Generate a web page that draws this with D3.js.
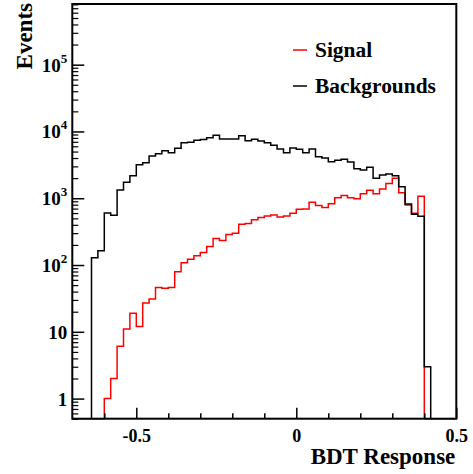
<!DOCTYPE html>
<html>
<head>
<meta charset="utf-8">
<script src="https://cdn.jsdelivr.net/npm/d3@7/dist/d3.min.js"></script>
<style>
  html, body { margin: 0; padding: 0; background: #fff; }
  svg { display: block; }
  text { font-family: "Liberation Serif", "Times New Roman", serif; font-weight: bold; fill: #000; }
</style>
</head>
<body>
<svg id="chart" width="473" height="474"></svg>
<script>
// ---- data ----
const binEdges = [-0.70,-0.68,-0.66,-0.64,-0.62,-0.60,-0.58,-0.56,-0.54,-0.52,
  -0.50,-0.48,-0.46,-0.44,-0.42,-0.40,-0.38,-0.36,-0.34,-0.32,
  -0.30,-0.28,-0.26,-0.24,-0.22,-0.20,-0.18,-0.16,-0.14,-0.12,
  -0.10,-0.08,-0.06,-0.04,-0.02,0.00,0.02,0.04,0.06,0.08,
  0.10,0.12,0.14,0.16,0.18,0.20,0.22,0.24,0.26,0.28,
  0.30,0.32,0.34,0.36,0.38,0.40,0.42,0.44,0.46,0.48,0.50];

const backgroundCounts = [0,0,0,129,163,603,556,1330,1740,2180,
  3160,3410,4300,4650,5160,4820,5600,6790,6890,7380,
  7600,8070,8770,7720,7720,7720,8650,7250,7640,7200,
  6790,6200,5450,4820,5650,5410,4820,5450,4170,4010,
  3530,3700,3830,3490,2770,2650,2910,1990,2230,2310,
  2180,1490,822,576,537,3,0,0,0,0];

const signalCounts = [0,0,0,0,0,1.0,2.0,6.1,11,19,
  12,27,31,46,45,46,79,108,122,138,
  154,190,250,233,287,298,407,417,478,513,
  543,562,525,543,596,684,690,871,776,724,
  830,1020,1098,1020,980,1170,1320,1170,1380,1660,
  1990,1210,794,596,1070,0,0,0,0,0];

const xMajorTicks = [-0.5, 0, 0.5];
const xMajorLabels = ["-0.5", "0", "0.5"];
const xMinorTicks = [-0.6,-0.4,-0.3,-0.2,-0.1,0.1,0.2,0.3,0.4];
const yMajorTicks = [1, 10, 100, 1000, 10000, 100000];
const yMajorLabels = ["1", "10", "10^2", "10^3", "10^4", "10^5"];
const legendNames = ["Signal", "Backgrounds"];
const legendColors = ["#ff0000", "#000000"];

const xTitle = "BDT Response";
const yTitle = "Events";

// ---- layout ----
const W = 473, H = 474;
const L = 72.3, R = 456.3, T = 4, B = 418.7;
const svg = d3.select("#chart");

const x = d3.scaleLinear().domain([-0.7, 0.5]).range([L, R]);
const y = d3.scaleLog().domain([0.5, 8.1e5]).range([B, T]).clamp(true);

// minor y ticks (2..9 per decade)
const yMinorTicks = [];
[0.1,1,10,100,1000,10000,100000].forEach(d => {
  for (let m = 2; m <= 9; m++) { const v = d*m; if (v >= 0.5 && v <= 8.1e5) yMinorTicks.push(v); }
});

// ---- histogram paths ----
function stepPath(counts, fullRange) {
  const pts = [];
  let first = 0, last = counts.length - 1;
  if (!fullRange) {
    while (first < counts.length && counts[first] <= 0) first++;
    while (last >= 0 && counts[last] <= 0) last--;
  }
  const yv = c => c > 0 ? y(c) : B;
  pts.push([x(binEdges[first]), B]);
  for (let i = first; i <= last; i++) {
    pts.push([x(binEdges[i]), yv(counts[i])]);
    pts.push([x(binEdges[i+1]), yv(counts[i])]);
  }
  pts.push([x(binEdges[last+1]), B]);
  return d3.line()(pts);
}

const plot = svg.append("g");
plot.append("path")
  .attr("d", stepPath(signalCounts, true))
  .attr("fill", "none").attr("stroke", legendColors[0]).attr("stroke-width", 1.5);
plot.append("path")
  .attr("d", stepPath(backgroundCounts, false))
  .attr("fill", "none").attr("stroke", legendColors[1]).attr("stroke-width", 1.5);

// ---- axes ----
const xMajor = d3.axisBottom(x).tickValues(xMajorTicks).tickSize(-11).tickPadding(10.5)
  .tickFormat((d, i) => xMajorLabels[i]);
const gx = svg.append("g").attr("transform", `translate(0,${B})`).call(xMajor);
gx.select(".domain").remove();
gx.selectAll("line").attr("stroke", "#000").attr("stroke-width", 1.5);
gx.selectAll("text").style("font-size", "18px").attr("fill", "#000");

const xMinor = d3.axisBottom(x).tickValues(xMinorTicks).tickSize(-5.5).tickFormat("");
const gxm = svg.append("g").attr("transform", `translate(0,${B})`).call(xMinor);
gxm.select(".domain").remove();
gxm.selectAll("line").attr("stroke", "#000").attr("stroke-width", 1.5);

const yMajor = d3.axisLeft(y).tickValues(yMajorTicks).tickSize(-12).tickPadding(5)
  .tickFormat((d, i) => yMajorLabels[i]);
const gy = svg.append("g").attr("transform", `translate(${L},0)`).call(yMajor);
gy.select(".domain").remove();
gy.selectAll("line").attr("stroke", "#000").attr("stroke-width", 1.5);
gy.selectAll("text").each(function() {
  const t = d3.select(this);
  const s = t.text();
  t.text(null).attr("dy", null).attr("y", 6.5).style("font-size", "19px").attr("fill", "#000");
  if (s.indexOf("^") >= 0) {
    const [base, exp] = s.split("^");
    t.append("tspan").text(base);
    t.append("tspan").text(exp).style("font-size", "13px").attr("dy", -9);
  } else {
    t.append("tspan").text(s);
  }
});

const yMinor = d3.axisLeft(y).tickValues(yMinorTicks).tickSize(-6).tickFormat("");
const gym = svg.append("g").attr("transform", `translate(${L},0)`).call(yMinor);
gym.select(".domain").remove();
gym.selectAll("line").attr("stroke", "#000").attr("stroke-width", 1.2);

// ---- frame ----
svg.append("rect").attr("x", L).attr("y", T).attr("width", R - L).attr("height", B - T)
  .attr("fill", "none").attr("stroke", "#000").attr("stroke-width", 2);

// ---- titles ----
svg.append("text").attr("x", R - 1).attr("y", 464).attr("text-anchor", "end")
  .style("font-size", "23px").text(xTitle);
svg.append("text").attr("transform", `translate(32,3) rotate(-90)`).attr("text-anchor", "end")
  .style("font-size", "23px").text(yTitle);

// ---- legend ----
const leg = svg.append("g");
legendNames.forEach((name, i) => {
  const cy = 50 + i * 36;
  leg.append("line").attr("x1", 293).attr("x2", 307).attr("y1", cy).attr("y2", cy)
    .attr("stroke", legendColors[i]).attr("stroke-width", 1.5);
  leg.append("text").attr("x", 315).attr("y", cy + 7).style("font-size", "21.4px").text(name);
});
</script>
</body>
</html>
